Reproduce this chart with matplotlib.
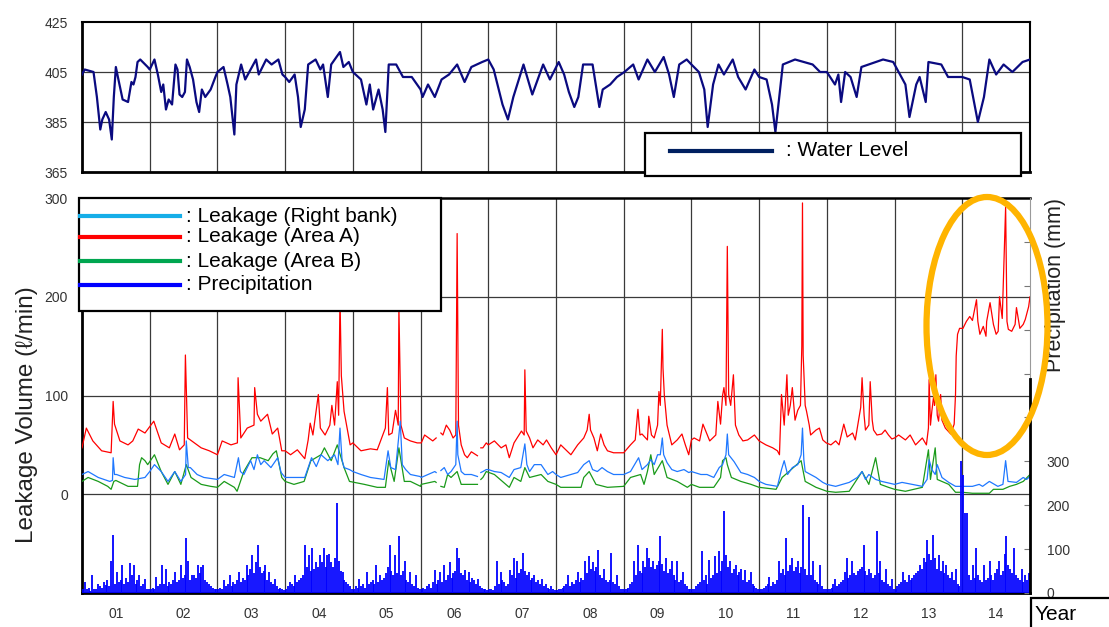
import numpy as np
import matplotlib
matplotlib.use('Agg')
import matplotlib.pyplot as plt
from matplotlib.patches import Rectangle, Ellipse
from matplotlib.lines import Line2D

plt.rcParams['font.family'] = ['Liberation Sans', 'DejaVu Sans']

nan = np.nan
year_labels = ['01', '02', '03', '04', '05', '06', '07', '08', '09', '10', '11', '12', '13', '14']

# ---------------- Water level (top panel) ----------------
wl_t = [0.00, 0.04, 0.17, 0.22, 0.27, 0.30, 0.35, 0.40, 0.44, 0.47, 0.50, 0.53, 0.60, 0.68, 0.73, 0.76, 0.79, 0.82, 0.86, 0.97,
        1.00, 1.07, 1.12, 1.17, 1.20, 1.24, 1.28, 1.33, 1.38, 1.41, 1.44, 1.48, 1.52, 1.55, 1.59, 1.64, 1.69, 1.73, 1.77, 1.82, 1.90, 1.97,
        2.00, 2.09, 2.15, 2.19, 2.25, 2.28, 2.35, 2.41, 2.49, 2.57, 2.61, 2.72, 2.80, 2.90, 2.96,
        3.00, 3.06, 3.14, 3.19, 3.23, 3.29, 3.34, 3.45, 3.52, 3.56, 3.63, 3.68, 3.81, 3.86, 3.94,
        4.00, 4.12, 4.20, 4.25, 4.30, 4.38, 4.44, 4.48, 4.53, 4.64, 4.74, 4.87,
        5.00, 5.03, 5.11, 5.21, 5.31, 5.42, 5.54, 5.65, 5.75, 5.91,
        6.00, 6.08, 6.21, 6.29, 6.37, 6.52, 6.65, 6.81, 6.91,
        7.04, 7.12, 7.19, 7.27, 7.33, 7.40, 7.54, 7.64, 7.69, 7.80, 7.90,
        8.01, 8.14, 8.22, 8.35, 8.46, 8.59, 8.67, 8.74, 8.82, 8.93,
        9.00, 9.11, 9.19, 9.24, 9.32, 9.40, 9.48, 9.61, 9.69, 9.80, 9.93,
        10.00, 10.11, 10.19, 10.24, 10.35, 10.53, 10.79, 10.90,
        11.00, 11.12, 11.17, 11.21, 11.27, 11.35, 11.44, 11.51, 11.83, 11.98,
        12.16, 12.22, 12.32, 12.37, 12.46, 12.50, 12.69, 12.79, 13.00,
        13.11, 13.16, 13.23, 13.32, 13.40, 13.50, 13.61, 13.74, 13.89, 14.00]
wl_v = [404, 406, 405, 395, 382, 386, 389, 386, 378, 395, 407, 403, 394, 393, 401, 400, 403, 409, 410, 407,
        406, 410, 404, 397, 400, 390, 394, 392, 408, 406, 396, 395, 397, 410, 407, 402, 393, 389, 398, 395, 398, 403,
        405, 407, 400, 395, 380, 400, 408, 402, 406, 410, 404, 410, 408, 410, 404,
        403, 401, 404, 395, 383, 390, 408, 410, 406, 408, 395, 408, 413, 407, 409,
        405, 402, 392, 400, 390, 398, 390, 381, 408, 408, 403, 403,
        398, 395, 400, 395, 402, 404, 408, 401, 407, 409,
        410, 406, 392, 386, 395, 408, 396, 408, 402,
        409, 404, 397, 391, 395, 408, 408, 391, 398, 400, 403,
        405, 408, 402, 410, 405, 411, 404, 395, 408, 410,
        408, 405, 398, 383, 400, 408, 404, 410, 403, 398, 406,
        403, 402, 392, 381, 408, 410, 408, 405,
        405, 400, 404, 393, 405, 403, 395, 407, 410, 409,
        400, 387, 400, 403, 393, 409, 408, 403, 403,
        402, 395, 385, 395, 410, 404, 408, 405, 409, 410]

# ---------------- Leakage (Area A) ----------------
la_t = [0.00, 0.064, 0.16, 0.29, 0.43, 0.46, 0.48, 0.56, 0.68, 0.75, 0.83, 0.93,
        1.06, 1.17, 1.29, 1.37, 1.44, 1.51, 1.527, 1.56, 1.66, 1.76, 1.88,
        2.00, 2.07, 2.20, 2.295, 2.305, 2.345, 2.44, 2.54, 2.55, 2.59, 2.64, 2.74, 2.81, 2.89, 2.95,
        3.00, 3.08, 3.18, 3.29, 3.34, 3.37, 3.41, 3.49, 3.52, 3.59, 3.66, 3.69, 3.73, 3.77, 3.79, 3.81, 3.83, 3.87, 3.92, 3.96,
        4.00, 4.12, 4.26, 4.36, 4.48, 4.51, 4.53, 4.58, 4.63, 4.67, 4.68, 4.71, 4.76, 4.85, 4.95,
        5.01, 5.06, 5.18, 5.23, 5.265, 5.30, 5.33, 5.38, 5.43, 5.48, 5.52, 5.54, 5.56, 5.60, 5.65, 5.69, 5.75, 5.84, 5.865, 5.89, 5.92, 5.97,
        6.00, 6.09, 6.19, 6.26, 6.31, 6.38, 6.49, 6.53, 6.54, 6.56, 6.61, 6.66, 6.73, 6.81, 6.86, 6.93,
        7.00, 7.07, 7.22, 7.32, 7.41, 7.46, 7.49, 7.51, 7.56, 7.61, 7.66, 7.71, 7.76, 7.85, 7.93,
        8.00, 8.10, 8.17, 8.21, 8.24, 8.27, 8.35, 8.37, 8.41, 8.45, 8.50, 8.52, 8.54, 8.57, 8.58, 8.60, 8.64, 8.71, 8.79, 8.86, 8.91, 8.96,
        9.00, 9.04, 9.12, 9.17, 9.27, 9.36, 9.39, 9.43, 9.46, 9.48, 9.51, 9.53, 9.55, 9.58, 9.62, 9.65, 9.70, 9.76, 9.83, 9.93,
        10.00, 10.10, 10.20, 10.27, 10.30, 10.33, 10.37, 10.41, 10.43, 10.46, 10.49, 10.53, 10.57, 10.61, 10.63, 10.64, 10.65, 10.68, 10.70, 10.74, 10.76, 10.84, 10.89, 10.94, 10.99,
        11.06, 11.13, 11.18, 11.25, 11.30, 11.38, 11.42, 11.50, 11.52, 11.55, 11.57, 11.62, 11.64, 11.67, 11.69, 11.74, 11.81, 11.86, 11.91, 11.96,
        12.00, 12.06, 12.16, 12.23, 12.31, 12.41, 12.47, 12.50, 12.51, 12.53, 12.55, 12.58, 12.59, 12.61, 12.63, 12.65, 12.68, 12.70, 12.75, 12.83, 12.88, 12.90, 12.91, 12.93, 12.96,
        13.01, 13.06, 13.11, 13.15, 13.21, 13.23, 13.26, 13.31, 13.35, 13.36, 13.41, 13.46, 13.50, 13.53, 13.55, 13.59, 13.64, 13.66, 13.68, 13.73, 13.78, 13.80, 13.85, 13.90, 13.93, 13.98, 14.00]
la_v = [47, 67, 54, 44, 42, 94, 71, 54, 50, 54, 66, 62,
        74, 52, 47, 61, 45, 50, 141, 57, 52, 47, 44,
        40, 54, 50, 52, 118, 57, 67, 70, 108, 81, 74, 81, 61, 67, 44,
        44, 40, 45, 36, 55, 72, 60, 101, 67, 60, 70, 90, 70, 114, 80, 200, 120, 84, 65, 50,
        52, 44, 46, 45, 67, 108, 60, 62, 85, 70, 190, 70, 57, 54, 52,
        52, 60, 54, 57, nan, 62, 60, 70, 65, 57, 60, 264, 70, 50, 40, 37, 43, 39, nan, 47, 47, 52,
        50, 54, 47, 50, 37, 52, 64, 60, 126, 64, 57, 47, 55, 50, 55, 47,
        40, 50, 40, 50, 57, 65, 81, 65, 57, 44, 61, 50, 44, 42, 42,
        42, 50, 55, 86, 60, 61, 55, 79, 60, 57, 70, 104, 90, 167, 128, 100, 70, 50, 55, 61, 50, 40,
        55, 57, 54, 71, 54, 60, 94, 71, 100, 108, 90, 251, 101, 90, 121, 70, 60, 54, 55, 60,
        54, 50, 47, 44, 40, 101, 70, 121, 80, 90, 108, 75, 85, 90, 150, 295, 141, 90, 84, 70, 60, 65, 67, 55, 52,
        50, 54, 50, 71, 58, 62, 55, 88, 118, 80, 65, 70, 114, 75, 65, 60, 61, 65, 60, 56,
        57, 60, 55, 60, 50, 57, 50, 67, 116, 70, 84, 101, 90, 121, 80, 74, 101, 75, 67, 61, 71, 101, 140, 162, 168,
        168, 175, 180, 176, 197, 175, 162, 170, 160, 175, 194, 172, 162, 165, 200, 178, 291, 175, 167, 165, 172, 189, 168, 172, 177, 190, 200]

# ---------------- Leakage (Right bank) ----------------
lr_t = [0.00, 0.09, 0.24, 0.41, 0.45, 0.46, 0.48, 0.51, 0.63, 0.78, 0.93,
        1.00, 1.07, 1.17, 1.27, 1.37, 1.46, 1.53, 1.54, 1.57, 1.60, 1.70, 1.80, 1.90,
        2.00, 2.10, 2.25, 2.31, 2.34, 2.39, 2.49, 2.54, 2.59, 2.64, 2.69, 2.79, 2.89, 2.94,
        3.00, 3.08, 3.29, 3.39, 3.46, 3.53, 3.63, 3.73, 3.78, 3.81, 3.84, 3.87, 3.95,
        4.00, 4.12, 4.26, 4.46, 4.52, 4.56, 4.63, 4.70, 4.73, 4.78, 4.85, 4.99,
        5.01, 5.11, 5.21, 5.23, 5.265, 5.30, 5.35, 5.40, 5.45, 5.52, 5.54, 5.55, 5.60, 5.65, 5.75, 5.84, 5.865, 5.89, 5.92, 5.97,
        6.00, 6.09, 6.19, 6.31, 6.38, 6.48, 6.54, 6.57, 6.61, 6.68, 6.78, 6.88, 6.95,
        7.00, 7.07, 7.22, 7.32, 7.41, 7.49, 7.54, 7.61, 7.68, 7.76, 7.85, 7.93,
        8.00, 8.10, 8.22, 8.27, 8.35, 8.40, 8.45, 8.50, 8.54, 8.57, 8.59, 8.64, 8.71, 8.79, 8.89, 8.96,
        9.00, 9.14, 9.23, 9.33, 9.41, 9.46, 9.51, 9.53, 9.55, 9.63, 9.73, 9.83, 9.93,
        10.00, 10.10, 10.27, 10.33, 10.37, 10.42, 10.49, 10.57, 10.62, 10.64, 10.66, 10.68, 10.76, 10.84, 10.94,
        11.00, 11.13, 11.33, 11.45, 11.52, 11.57, 11.62, 11.72, 11.81,
        12.00, 12.11, 12.41, 12.48, 12.51, 12.55, 12.60, 12.63, 12.70, 12.80, 12.90,
        13.00, 13.15, 13.25, 13.30, 13.40, 13.525, 13.60, 13.64, 13.675, 13.80, 13.90, 13.95, 14.00]
lr_v = [20, 23, 17, 13, 14, 37, 20, 20, 17, 15, 17,
        23, 30, 23, 13, 23, 13, 20, 54, 27, 27, 20, 17, 16,
        15, 20, 17, 37, 23, 20, 34, 25, 40, 30, 34, 27, 37, 22,
        17, 17, 17, 37, 28, 40, 34, 40, 30, 67, 35, 27, 25,
        23, 20, 17, 15, 44, 27, 25, 74, 30, 25, 20, 18,
        17, 20, 23, 22, nan, 24, 27, 20, 23, 30, 74, 40, 23, 20, 20, 18, nan, 22, 23, 25,
        25, 23, 22, 17, 25, 27, 51, 30, 23, 30, 30, 20, 23,
        20, 17, 20, 22, 30, 34, 25, 23, 27, 23, 20, 20,
        20, 23, 37, 25, 30, 35, 30, 40, 40, 57, 40, 32, 25, 23, 25, 22,
        23, 20, 20, 17, 27, 30, 40, 61, 40, 33, 22, 20, 17,
        13, 10, 8, 25, 34, 20, 27, 30, 40, 67, 35, 23, 20, 17, 12,
        10, 8, 12, 17, 23, 15, 20, 15, 13,
        10, 12, 8, 15, 35, 25, 20, 30, 17, 12, 8,
        8, 8, 10, 8, 13, 8, 10, 34, 13, 12, 17, 15, 18]

# ---------------- Leakage (Area B) ----------------
lb_t = [0.00, 0.09, 0.24, 0.38, 0.43, 0.47, 0.50, 0.68, 0.82, 0.85, 0.88, 0.93, 0.97,
        1.07, 1.17, 1.27, 1.37, 1.46, 1.54, 1.61, 1.76, 1.90, 2.00,
        2.10, 2.25, 2.29, 2.39, 2.51, 2.63, 2.75, 2.82, 2.87, 2.95, 3.00,
        3.13, 3.28, 3.38, 3.53, 3.58, 3.68, 3.77, 3.87, 3.95,
        4.17, 4.36, 4.48, 4.53, 4.61, 4.68, 4.76, 4.85, 5.00,
        5.01, 5.21, 5.23, 5.265, 5.30, 5.35, 5.40, 5.45, 5.54, 5.60, 5.75, 5.84, 5.865, 5.89, 5.92, 5.97,
        6.09, 6.31, 6.38, 6.48, 6.54, 6.61, 6.78, 6.88, 7.00,
        7.07, 7.37, 7.41, 7.49, 7.59, 7.76, 8.00,
        8.10, 8.25, 8.30, 8.35, 8.40, 8.45, 8.57, 8.64, 8.79, 8.94, 9.00,
        9.12, 9.33, 9.43, 9.46, 9.51, 9.53, 9.59, 9.73, 9.88, 10.00,
        10.25, 10.34, 10.44, 10.62, 10.68, 10.84, 11.00,
        11.13, 11.33, 11.52, 11.62, 11.72, 11.79, 11.91, 12.00,
        12.16, 12.41, 12.50, 12.53, 12.60, 12.63, 12.80, 12.90, 13.00,
        13.15, 13.40, 13.46, 13.60, 13.70, 13.80, 13.90, 14.00]
lb_v = [13, 17, 13, 8, 5, 13, 14, 8, 8, 30, 37, 34, 30,
        40, 23, 10, 23, 10, 30, 17, 10, 8, 7,
        13, 7, 3, 23, 37, 37, 34, 41, 44, 17, 13,
        10, 13, 34, 40, 47, 34, 50, 27, 13,
        10, 7, 7, 34, 13, 47, 13, 13, 8,
        10, 13, 12, nan, 8, 7, 20, 17, 23, 10, 10, 10, nan, 15, 17, 23,
        20, 7, 17, 13, 27, 17, 20, 13, 10,
        7, 7, 17, 23, 10, 7, 8,
        17, 20, 10, 23, 40, 20, 34, 17, 13, 7, 10,
        7, 7, 17, 34, 37, 30, 17, 13, 10, 7,
        5, 17, 23, 34, 13, 7, 3,
        2, 3, 23, 10, 37, 10, 7, 5,
        3, 7, 45, 15, 47, 15, 10, 2, 2,
        1, 1, 5, 5, 8, 10, 13, 20]

# ---------------- Precipitation (mm), 36 ten-day readings per year ----------------
precip_y01 = [10, 26, 8, 12, 5, 41, 8, 10, 20, 15, 12, 25, 18, 30, 15, 72, 133, 20, 48, 25, 30, 64, 20, 35, 25, 68, 40, 64, 20, 30, 41, 15, 20, 33, 10, 8]
precip_y02 = [8, 12, 10, 37, 15, 20, 64, 20, 55, 15, 25, 20, 30, 48, 25, 30, 64, 35, 40, 125, 72, 30, 40, 41, 35, 64, 45, 60, 64, 30, 26, 20, 15, 12, 10, 8]
precip_y03 = [8, 12, 10, 30, 15, 20, 41, 15, 25, 20, 30, 48, 25, 35, 30, 64, 40, 55, 87, 45, 70, 110, 60, 45, 50, 64, 30, 48, 25, 20, 33, 15, 10, 12, 8, 6]
precip_y04 = [10, 15, 26, 20, 15, 41, 25, 30, 35, 40, 110, 60, 87, 50, 102, 55, 71, 60, 87, 70, 102, 60, 87, 90, 70, 60, 80, 205, 72, 50, 48, 30, 25, 20, 15, 10]
precip_y05 = [8, 15, 12, 33, 15, 20, 12, 48, 20, 25, 30, 20, 64, 25, 40, 30, 35, 45, 60, 110, 50, 40, 87, 45, 130, 40, 50, 72, 30, 25, 48, 20, 15, 41, 12, 10]
precip_y06 = [10, 12, 8, 15, 20, 12, 25, 53, 20, 30, 48, 25, 64, 30, 40, 70, 35, 45, 50, 102, 80, 45, 40, 53, 30, 48, 25, 35, 30, 20, 33, 15, 12, 10, 8, 6]
precip_y07 = [8, 10, 6, 15, 72, 20, 48, 30, 25, 15, 20, 53, 40, 80, 35, 72, 45, 55, 91, 50, 40, 48, 30, 35, 41, 25, 30, 20, 33, 15, 20, 12, 10, 15, 8, 6]
precip_y08 = [6, 8, 10, 12, 15, 20, 41, 15, 25, 20, 30, 48, 25, 35, 30, 72, 45, 84, 55, 70, 50, 60, 99, 40, 35, 55, 30, 25, 30, 91, 25, 20, 41, 15, 10, 8]
precip_y09 = [8, 10, 12, 20, 25, 72, 40, 110, 50, 45, 72, 60, 102, 80, 60, 72, 55, 64, 72, 130, 65, 50, 80, 45, 55, 72, 40, 30, 72, 25, 30, 48, 20, 15, 10, 8]
precip_y10 = [8, 10, 15, 20, 25, 95, 30, 40, 20, 76, 35, 40, 84, 45, 95, 50, 72, 186, 87, 60, 72, 45, 55, 64, 40, 48, 55, 30, 53, 25, 30, 48, 20, 15, 12, 8]
precip_y11 = [8, 10, 12, 15, 20, 37, 15, 25, 20, 30, 72, 45, 55, 40, 125, 50, 64, 80, 50, 60, 72, 45, 60, 200, 55, 40, 174, 40, 72, 30, 25, 20, 64, 15, 10, 8]
precip_y12 = [8, 10, 12, 20, 33, 15, 20, 25, 30, 48, 80, 35, 40, 72, 45, 40, 50, 55, 60, 110, 50, 40, 55, 45, 35, 40, 141, 45, 72, 30, 25, 55, 20, 15, 33, 10]
precip_y13 = [10, 15, 20, 25, 48, 30, 25, 41, 30, 35, 40, 45, 50, 64, 55, 80, 70, 121, 90, 75, 133, 80, 55, 87, 50, 72, 45, 64, 40, 35, 48, 30, 55, 20, 15, 300]
precip_y14 = [270, 183, 183, 40, 30, 64, 35, 102, 40, 30, 25, 64, 30, 35, 72, 40, 30, 45, 55, 72, 40, 50, 90, 130, 64, 55, 45, 102, 40, 35, 30, 55, 25, 40, 30, 45]
precip_years = [precip_y01, precip_y02, precip_y03, precip_y04, precip_y05, precip_y06, precip_y07,
                precip_y08, precip_y09, precip_y10, precip_y11, precip_y12, precip_y13, precip_y14]

# ---------------- Layout ----------------
W, H = 1109, 627
def fx(x):
    return x / W
def fy(y):
    return 1 - y / H

fig = plt.figure(figsize=(W / 100, H / 100), dpi=100)
fig.patch.set_facecolor('white')

X0, X1 = 82, 1030
ax_top = fig.add_axes([fx(X0), fy(172), (X1 - X0) / W, (172 - 22) / H])
ax = fig.add_axes([fx(X0), fy(593), (X1 - X0) / W, (593 - 198) / H])
ax2 = ax.twinx()

grid_c = '#3a3a3a'
tick_c = '#333333'

# top panel
ax_top.plot(wl_t, wl_v, color='#0a0a80', lw=1.6, zorder=3)
ax_top.set_xlim(0, 14)
ax_top.set_ylim(365, 425)
ax_top.set_yticks([365, 385, 405, 425])
ax_top.set_xticks([])
ax_top.tick_params(axis='y', length=0, pad=10, labelsize=10, labelcolor=tick_c)
for yv in [385, 405]:
    ax_top.axhline(yv, color=grid_c, lw=0.9, zorder=1)
for k in range(1, 14):
    ax_top.axvline(k, color=grid_c, lw=0.9, zorder=1)
for s in ['left', 'bottom']:
    ax_top.spines[s].set_linewidth(2.0)
for s in ['top', 'right']:
    ax_top.spines[s].set_linewidth(1.5)

# bottom panel: leakage
ax.set_xlim(0, 14)
ax.set_ylim(-100, 300)
ax.set_yticks([0, 100, 200, 300])
ax.tick_params(axis='y', length=0, pad=10, labelsize=10, labelcolor=tick_c)
ax.set_xticks([k + 0.5 for k in range(14)])
ax.set_xticklabels(year_labels)
ax.tick_params(axis='x', length=0, pad=10, labelsize=10, labelcolor=tick_c)
for yv in [0, 100, 200]:
    ax.axhline(yv, color=grid_c, lw=0.9, zorder=1)
for k in range(1, 14):
    ax.axvline(k, color=grid_c, lw=0.9, zorder=1)
ax.plot(la_t, la_v, color='#ff0000', lw=0.9, zorder=3)
ax.plot(lb_t, lb_v, color='#1a9a1a', lw=0.9, zorder=4)
ax.plot(lr_t, lr_v, color='#1f78ff', lw=0.9, zorder=5)
ax.spines['left'].set_linewidth(2.0)
ax.spines['bottom'].set_linewidth(2.0)
ax.spines['top'].set_linewidth(1.8)
ax.spines['right'].set_visible(False)

# precipitation on twin axis
p_t, p_v = [], []
for k, vals in enumerate(precip_years):
    n = len(vals)
    for i, v in enumerate(vals):
        p_t.append(k + (i + 0.5) / n)
        p_v.append(v)
ax2.vlines(p_t, 0, p_v, color='#0000ff', lw=1.3, zorder=2)
ax2.set_ylim(0, 900)
ax2.set_yticks(range(0, 900, 100))
ax2.set_yticklabels(['0', '100', '200', '300', '', '', '', '', ''])
ax2.tick_params(axis='y', direction='in', length=4, width=0.8, color='#777777', pad=12,
                labelsize=10, labelcolor=tick_c)
for s in ['left', 'top', 'bottom']:
    ax2.spines[s].set_visible(False)
ax2.spines['right'].set_bounds(0, 487)
ax2.spines['right'].set_linewidth(2.0)
ax2.plot([1, 1], [487, 900], transform=ax2.get_yaxis_transform(), color='#9a9a9a', lw=0.8, clip_on=False)

# ---------------- Legends & annotations (figure level) ----------------
# leakage legend box
fig.add_artist(Rectangle((fx(79), fy(311)), (441 - 79) / W, (311 - 198) / H, transform=fig.transFigure,
                         facecolor='white', edgecolor='black', lw=1.6, zorder=5))
leg_items = [(': Leakage (Right bank)', '#16aee8', 216),
             (': Leakage (Area A)', '#ff0000', 237),
             (': Leakage (Area B)', '#00a650', 261),
             (': Precipitation', '#0000ff', 285)]
for label, col, yy in leg_items:
    fig.add_artist(Line2D([fx(80), fx(180)], [fy(yy), fy(yy)], transform=fig.transFigure,
                          color=col, lw=3, zorder=6))
    fig.text(fx(186), fy(yy), label, fontsize=15, va='center', ha='left', zorder=7)

# water level legend box
fig.add_artist(Rectangle((fx(645), fy(176)), (1021 - 645) / W, (176 - 133) / H, transform=fig.transFigure,
                         facecolor='white', edgecolor='black', lw=1.6, zorder=5))
fig.add_artist(Line2D([fx(670), fx(772)], [fy(151), fy(151)], transform=fig.transFigure,
                      color='#002060', lw=3, zorder=6))
fig.text(fx(786), fy(150), ': Water Level', fontsize=15, va='center', ha='left', zorder=7)

# axis titles
fig.text(fx(27), fy(415), 'Leakage Volume (ℓ/min)', rotation=90, fontsize=17.5,
         ha='center', va='center', color='#222222')
fig.text(fx(1055), fy(285), 'Precipitation (mm)', rotation=90, fontsize=15.5,
         ha='center', va='center', color='#222222')

# Year box
fig.add_artist(Rectangle((fx(1031), fy(640)), (1120 - 1031) / W, (640 - 598) / H, transform=fig.transFigure,
                         facecolor='white', edgecolor='black', lw=1.6, zorder=5))
fig.text(fx(1035), fy(614), 'Year', fontsize=15, va='center', ha='left', zorder=7)

# highlight ellipse
fig.add_artist(Ellipse((fx(987), fy(326)), 121 / W, 258 / H, transform=fig.transFigure,
                       fill=False, edgecolor='#ffb400', lw=4.5, zorder=10))

fig.savefig('out.png', dpi=100)
